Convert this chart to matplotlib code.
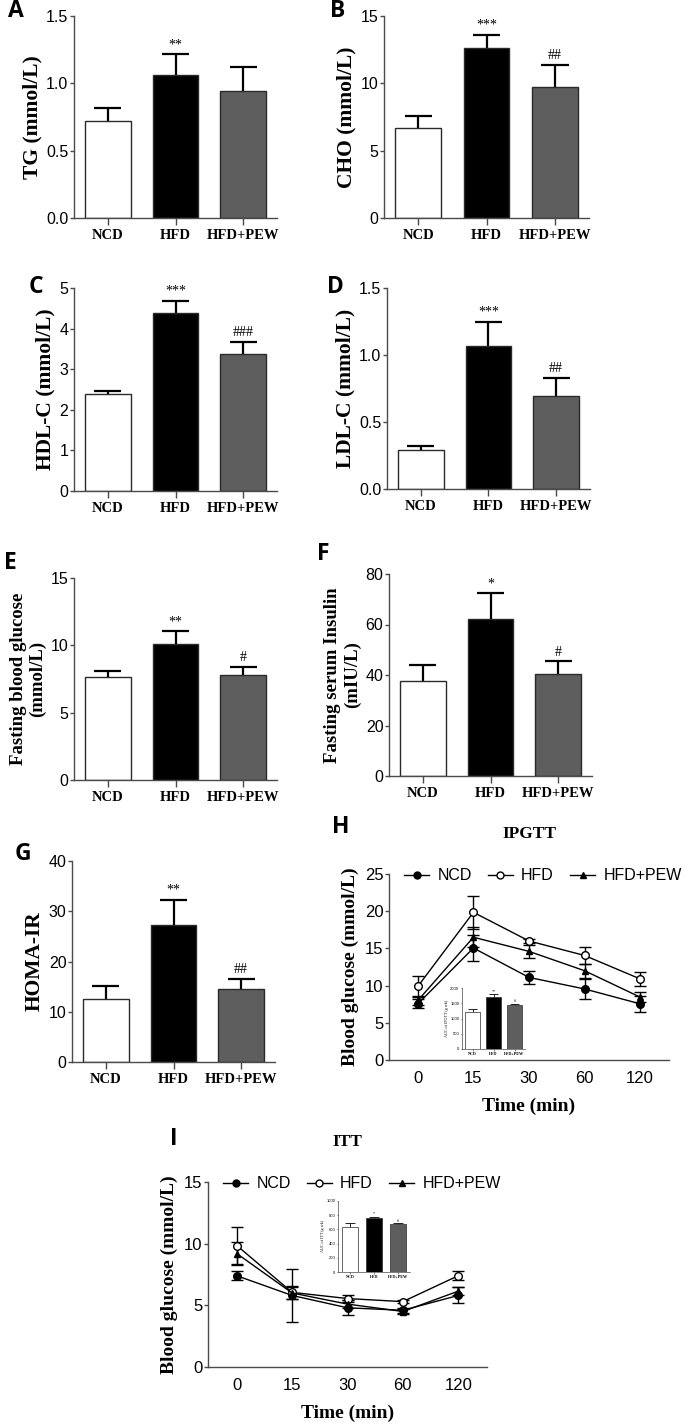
import numpy as np
import matplotlib
matplotlib.use('Agg')
import matplotlib.pyplot as plt
from matplotlib.lines import Line2D

# group bar data (mean and upper error)
groups = ['NCD', 'HFD', 'HFD+PEW']
barColors = ['white', 'black', '#5e5e5e']

tgMean = [0.72, 1.065, 0.945]
tgErr = [0.095, 0.15, 0.175]
tgSig = ['', '**', '']

choMean = [6.67, 12.65, 9.75]
choErr = [0.93, 0.97, 1.63]
choSig = ['', '***', '##']

hdlMean = [2.39, 4.38, 3.37]
hdlErr = [0.07, 0.31, 0.30]
hdlSig = ['', '***', '###']

ldlMean = [0.288, 1.069, 0.694]
ldlErr = [0.035, 0.18, 0.135]
ldlSig = ['', '***', '##']

fbgMean = [7.64, 10.13, 7.83]
fbgErr = [0.42, 0.92, 0.57]
fbgSig = ['', '**', '#']

insMean = [37.6, 62.0, 40.5]
insErr = [6.3, 10.5, 4.9]
insSig = ['', '*', '#']

homaMean = [12.6, 27.3, 14.55]
homaErr = [2.45, 5.0, 2.05]
homaSig = ['', '**', '##']

# IPGTT / ITT time courses
timeLabels = ['0', '15', '30', '60', '120']

gttNcd = [7.55, 15.05, 11.1, 9.55, 7.55]
gttNcdErr = [0.6, 1.8, 0.9, 1.3, 1.1]
gttHfd = [9.9, 19.85, 16.0, 14.05, 10.9]
gttHfdErr = [1.4, 2.2, 0.3, 1.2, 0.95]
gttPew = [8.0, 16.5, 14.6, 12.0, 8.45]
gttPewErr = [0.6, 1.35, 0.85, 0.95, 0.7]

ittNcd = [7.4, 5.8, 4.8, 4.6, 5.8]
ittNcdErr = [0.35, 2.15, 0.6, 0.2, 0.65]
ittHfd = [9.85, 6.05, 5.55, 5.3, 7.4]
ittHfdErr = [1.5, 0.55, 0.3, 0.1, 0.35]
ittPew = [9.2, 6.0, 5.1, 4.5, 6.15]
ittPewErr = [0.9, 0.5, 0.3, 0.2, 0.35]

# AUC insets
aucGttMean = [1200, 1700, 1440]
aucGttErr = [100, 100, 50]
aucGttSig = ['', '**', '#']
aucIttMean = [640, 755, 670]
aucIttErr = [45, 25, 15]
aucIttSig = ['', '*', '#']

W, H = 685, 1423
SERIF = 'Liberation Serif'
SANS = 'Liberation Sans'
SPINE = '#4a4a4a'

fig = plt.figure(figsize=(W / 100, H / 100), dpi=100)


def addAx(left, top, right, bottom):
  return fig.add_axes([left / W, 1 - bottom / H, (right - left) / W, (bottom - top) / H])


def styleAx(ax, tickSize=11, lw=1.0):
  for s in ['top', 'right']:
    ax.spines[s].set_visible(False)
  for s in ['left', 'bottom']:
    ax.spines[s].set_color(SPINE)
    ax.spines[s].set_linewidth(lw)
  ax.tick_params(axis='y', direction='out', length=3, width=lw, color=SPINE,
                 labelsize=tickSize, pad=1)
  for lab in ax.get_yticklabels():
    lab.set_fontfamily(SANS)


def barPanel(ax, mean, err, sig, ylim, yticks, ylabel, fmt=None, small=False, labelSize=15.5):
  x = np.arange(len(groups))
  lw = 0.5 if small else 1.0
  ax.bar(x, mean, width=0.67, color=barColors, edgecolor='#2a2a2a', linewidth=lw, zorder=2)
  # upward-only error bars, the way GraphPad draws them
  top = np.array(mean) + np.array(err)
  elw = 0.6 if small else 1.6
  ax.vlines(x, mean, top, color='black', lw=elw, zorder=1)
  ax.hlines(top, x - 0.2, x + 0.2, color='black', lw=elw, zorder=1)
  for i in range(len(x)):
    if sig[i]:
      ax.annotate(sig[i], (x[i], top[i]), xytext=(0, 0.5 if small else 2),
                  textcoords='offset points', ha='center', va='bottom',
                  fontsize=3 if small else 10, fontfamily=SERIF)
  ax.set_xlim(-0.5, 2.5)
  ax.set_ylim(*ylim)
  ax.set_yticks(yticks)
  if fmt:
    ax.set_yticklabels([fmt % t for t in yticks])
  ax.set_xticks(x)
  ax.set_xticklabels(groups)
  styleAx(ax, tickSize=3 if small else 11.5, lw=0.5 if small else 1.0)
  ax.tick_params(axis='x', direction='out', length=1.5 if small else 5, width=lw, color=SPINE,
                 labelsize=3 if small else 10.5, pad=1 if small else 3)
  ax.tick_params(axis='y', length=1 if small else 3)
  for lab in ax.get_xticklabels():
    lab.set_fontfamily(SERIF)
    lab.set_fontweight('bold')
  if small:
    ax.set_ylabel(ylabel, fontsize=3, fontfamily=SERIF, labelpad=1)
  else:
    ax.set_ylabel(ylabel, fontsize=labelSize, fontfamily=SERIF, fontweight='bold', labelpad=3)


def linePanel(ax, series, ylim, yticks, title):
  x = np.arange(len(timeLabels))
  markers = [('o', 'black'), ('o', 'white'), ('^', 'black')]
  for (mean, err), (m, fc) in zip(series, markers):
    ax.errorbar(x, mean, yerr=err, color='black', lw=1.0, marker=m, markersize=5.5 if m == 'o' else 5,
                markerfacecolor=fc, markeredgecolor='black', markeredgewidth=1.0,
                ecolor='black', elinewidth=1.0, capsize=4, capthick=1.0)
  ax.set_xlim(-0.52, 4.52)
  ax.set_ylim(*ylim)
  ax.set_yticks(yticks)
  ax.set_xticks(x)
  ax.set_xticklabels(timeLabels)
  styleAx(ax, tickSize=12)
  ax.tick_params(axis='x', length=0, labelsize=12, pad=8)
  for lab in ax.get_xticklabels():
    lab.set_fontfamily(SANS)
  ax.set_xlabel('Time (min)', fontsize=14, fontfamily=SERIF, fontweight='bold', labelpad=8)
  ax.set_ylabel('Blood glucose (mmol/L)', fontsize=14, fontfamily=SERIF, fontweight='bold', labelpad=4)
  ax.set_title(title, fontsize=12.5, fontfamily=SERIF, fontweight='bold', pad=26)
  handles = [Line2D([], [], color='black', lw=1.0, marker='o', markersize=5, markerfacecolor='black'),
             Line2D([], [], color='black', lw=1.0, marker='o', markersize=5, markerfacecolor='white'),
             Line2D([], [], color='black', lw=1.0, marker='^', markersize=4.5, markerfacecolor='black')]
  ax.legend(handles, groups, loc='center left', bbox_to_anchor=(0.03, 0.99), ncol=3, frameon=False,
            handlelength=1.6, handletextpad=0.5, columnspacing=1.0,
            prop={'family': SANS, 'size': 11.5}, borderaxespad=0)


def panelLetter(x, y, s):
  fig.text(x / W, 1 - y / H, s, fontsize=16.5, fontweight='bold', fontfamily='Open Sans',
           ha='left', va='top')


axA = addAx(74, 16, 277, 218)
barPanel(axA, tgMean, tgErr, tgSig, (0, 1.5), [0, 0.5, 1.0, 1.5], 'TG (mmol/L)', fmt='%.1f')
axB = addAx(384, 16, 589, 218)
barPanel(axB, choMean, choErr, choSig, (0, 15), [0, 5, 10, 15], 'CHO (mmol/L)')
axC = addAx(74, 288, 277, 491)
barPanel(axC, hdlMean, hdlErr, hdlSig, (0, 5), [0, 1, 2, 3, 4, 5], 'HDL-C (mmol/L)')
axD = addAx(387, 288, 590, 489)
barPanel(axD, ldlMean, ldlErr, ldlSig, (0, 1.5), [0, 0.5, 1.0, 1.5], 'LDL-C (mmol/L)', fmt='%.1f')
axE = addAx(74, 578, 277, 780)
barPanel(axE, fbgMean, fbgErr, fbgSig, (0, 15), [0, 5, 10, 15], 'Fasting blood glucose\n(mmol/L)',
         labelSize=13.5)
axF = addAx(389, 574, 592, 776)
barPanel(axF, insMean, insErr, insSig, (0, 80), [0, 20, 40, 60, 80], 'Fasting serum Insulin\n(mIU/L)',
         labelSize=13.5)
axG = addAx(72, 861, 275, 1062)
barPanel(axG, homaMean, homaErr, homaSig, (0, 40), [0, 10, 20, 30, 40], 'HOMA-IR')

axH = addAx(389, 874, 669, 1060)
linePanel(axH, [(gttNcd, gttNcdErr), (gttHfd, gttHfdErr), (gttPew, gttPewErr)],
          (0, 25), [0, 5, 10, 15, 20, 25], 'IPGTT')
axI = addAx(208, 1182, 487, 1367)
linePanel(axI, [(ittNcd, ittNcdErr), (ittHfd, ittHfdErr), (ittPew, ittPewErr)],
          (0, 15), [0, 5, 10, 15], 'ITT')

axHin = addAx(462, 988, 525, 1049)
barPanel(axHin, aucGttMean, aucGttErr, aucGttSig, (0, 2000), [0, 500, 1000, 1500, 2000],
         'AUC of IPGTT (g wk)', small=True)
axIin = addAx(338, 1201, 410, 1272)
barPanel(axIin, aucIttMean, aucIttErr, aucIttSig, (0, 1000), [0, 200, 400, 600, 800, 1000],
         'AUC of ITT (g wk)', small=True)

panelLetter(8, -1, 'A')
panelLetter(330, -1, 'B')
panelLetter(29, 275, 'C')
panelLetter(327, 275, 'D')
panelLetter(4, 551, 'E')
panelLetter(317, 542, 'F')
panelLetter(15, 842, 'G')
panelLetter(332, 815, 'H')
panelLetter(170, 1127, 'I')

fig.savefig('out.png', dpi=100)
